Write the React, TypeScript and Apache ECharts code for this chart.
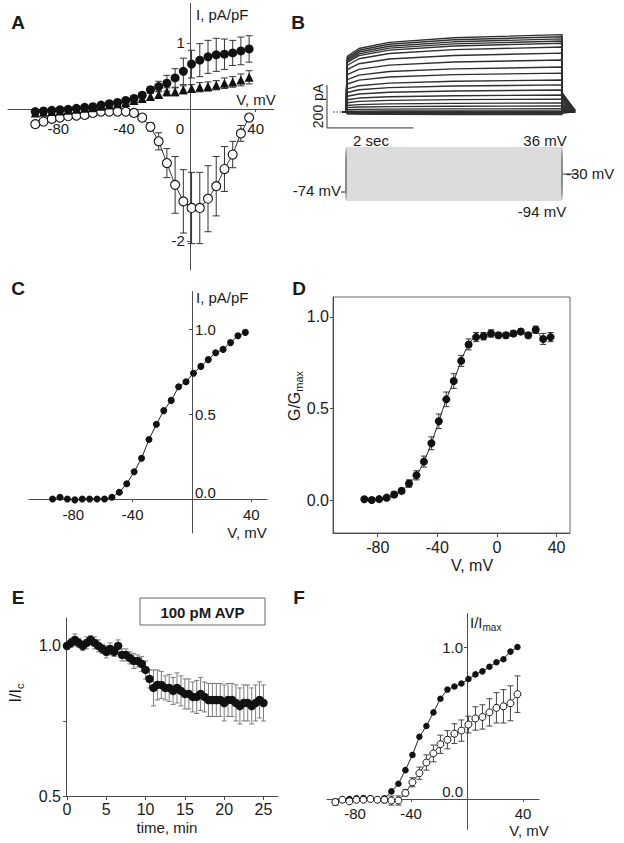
import React, { useEffect, useRef } from "react";
import * as echarts from "echarts";

// ---------- data ----------
const ivVoltages = [-94, -89, -84, -79, -74, -69, -64, -59, -54, -49, -44, -39, -34, -29, -24, -19, -14, -9, -4, 1, 6, 11, 16, 21, 26, 31, 36];

// Panel A (pA/pF)
const aFilled = [-0.04, -0.03, -0.02, -0.01, -0.005, 0.01, 0.025, 0.035, 0.06, 0.08, 0.1, 0.13, 0.16, 0.21, 0.29, 0.34, 0.39, 0.47, 0.57, 0.68, 0.74, 0.79, 0.82, 0.83, 0.85, 0.88, 0.91];
const aFilledErr = [0.02, 0.02, 0.02, 0.02, 0.02, 0.02, 0.02, 0.02, 0.02, 0.03, 0.03, 0.03, 0.04, 0.04, 0.05, 0.08, 0.12, 0.14, 0.2, 0.21, 0.25, 0.25, 0.25, 0.23, 0.19, 0.21, 0.2];
const aTriangle = [-0.06, -0.05, -0.04, -0.03, -0.02, -0.005, 0.01, 0.02, 0.04, 0.06, 0.08, 0.1, 0.13, 0.16, 0.19, 0.22, 0.26, 0.26, 0.29, 0.31, 0.33, 0.34, 0.36, 0.39, 0.41, 0.44, 0.48];
const aTriangleErr = [0.02, 0.02, 0.02, 0.02, 0.02, 0.02, 0.02, 0.02, 0.02, 0.02, 0.03, 0.03, 0.03, 0.04, 0.05, 0.05, 0.06, 0.06, 0.06, 0.06, 0.07, 0.07, 0.07, 0.08, 0.08, 0.09, 0.1];
const aOpen = [-0.23, -0.19, -0.15, -0.13, -0.11, -0.1, -0.09, -0.06, -0.04, -0.04, -0.04, -0.04, -0.06, -0.13, -0.27, -0.49, -0.82, -1.15, -1.4, -1.5, -1.5, -1.36, -1.17, -0.91, -0.69, -0.37, -0.13];
const aOpenErr = [0.03, 0.03, 0.02, 0.02, 0.02, 0.02, 0.02, 0.02, 0.02, 0.02, 0.02, 0.02, 0.03, 0.04, 0.06, 0.13, 0.22, 0.43, 0.48, 0.54, 0.54, 0.5, 0.45, 0.34, 0.2, 0.12, 0.05];
const aXLabels = [-80, -40, 0, 40];
const aYLabels = [1, -2];

// Panel B (pA, s, mV)
const bAmplitudes = [-12, -10, -8, -6, -5, -4, -2, 0, 5, 15, 28, 42, 60, 79, 102, 126, 149, 181, 209, 242, 274, 302, 320, 330, 340, 350, 360];
const bTraceTimes = [-0.08, 0, 0.03, 0.3, 1.0, 2.5, 5.0, 5.0, 5.3];
const bTraceProfile = [0, 0, 0.72, 0.82, 0.9, 0.96, 1.0, 0.25, 0.02];
const bHoldingMv = -74;
const bTailMv = -30;
const bPulseSec = 5;

// Panel C
const cCurrent = [0.0, 0.01, 0.0, -0.005, 0.0, 0.0, 0.0, 0.0, 0.01, 0.04, 0.09, 0.16, 0.24, 0.35, 0.44, 0.52, 0.58, 0.66, 0.69, 0.74, 0.78, 0.82, 0.86, 0.88, 0.92, 0.96, 0.98];
const cXLabels = [-80, -40, 40];
const cYLabels = [0, 0.5, 1.0];

// Panel D
const dVoltages = [-89, -84, -79, -74, -69, -64, -59, -54, -49, -44, -39, -34, -29, -24, -19, -14, -9, -4, 1, 6, 11, 16, 21, 26, 31, 36];
const dConductance = [0.004, 0.0, 0.005, 0.013, 0.03, 0.05, 0.09, 0.135, 0.21, 0.31, 0.43, 0.55, 0.65, 0.76, 0.85, 0.89, 0.895, 0.91, 0.9, 0.9, 0.91, 0.92, 0.9, 0.93, 0.88, 0.89];
const dErr = [0.01, 0.01, 0.01, 0.01, 0.015, 0.015, 0.02, 0.025, 0.03, 0.035, 0.04, 0.04, 0.04, 0.03, 0.03, 0.025, 0.02, 0.02, 0.015, 0.015, 0.015, 0.015, 0.015, 0.02, 0.03, 0.025];
const dXLabels = [-80, -40, 0, 40];
const dYLabels = [0, 0.5, 1.0];

// Panel E
const eTime = [0, 0.5, 1, 1.5, 2, 2.5, 3, 3.5, 4, 4.5, 5, 5.5, 6, 6.5, 7, 7.5, 8, 8.5, 9, 9.5, 10, 10.5, 11, 11.5, 12, 12.5, 13, 13.5, 14, 14.5, 15, 15.5, 16, 16.5, 17, 17.5, 18, 18.5, 19, 19.5, 20, 20.5, 21, 21.5, 22, 22.5, 23, 23.5, 24, 24.5, 25];
const eRatio = [1.0, 1.01, 1.02, 1.01, 1.0, 1.01, 1.02, 1.01, 1.0, 0.99, 0.98, 0.99, 0.98, 1.0, 0.97, 0.97, 0.96, 0.95, 0.95, 0.94, 0.92, 0.89, 0.86, 0.87, 0.87, 0.86, 0.86, 0.85, 0.86, 0.85, 0.84, 0.84, 0.83, 0.83, 0.84, 0.83, 0.82, 0.82, 0.82, 0.82, 0.81, 0.82, 0.82, 0.81, 0.8, 0.81, 0.81, 0.8, 0.81, 0.82, 0.81];
const eErr = [0.01, 0.015, 0.02, 0.015, 0.015, 0.02, 0.015, 0.02, 0.02, 0.015, 0.02, 0.02, 0.015, 0.02, 0.02, 0.02, 0.02, 0.025, 0.02, 0.025, 0.03, 0.03, 0.06, 0.05, 0.045, 0.04, 0.045, 0.045, 0.05, 0.05, 0.05, 0.05, 0.05, 0.055, 0.055, 0.05, 0.055, 0.055, 0.055, 0.055, 0.06, 0.055, 0.055, 0.06, 0.06, 0.06, 0.06, 0.06, 0.06, 0.06, 0.06];
const eXLabels = [0, 5, 10, 15, 20, 25];
const eYLabels = [0.5, 1.0];
const eYTicks = [0.5, 0.75, 1.0];

// Panel F
const fControl = [-0.02, -0.005, 0, 0.005, 0.007, 0.005, -0.005, 0.005, 0.05, 0.1, 0.19, 0.29, 0.41, 0.48, 0.57, 0.66, 0.72, 0.74, 0.76, 0.79, 0.82, 0.84, 0.87, 0.9, 0.92, 0.97, 1.0];
const fAvp = [-0.02, -0.005, -0.015, -0.005, -0.005, 0, -0.005, -0.005, -0.01, -0.01, 0.04, 0.11, 0.17, 0.24, 0.3, 0.36, 0.39, 0.43, 0.45, 0.49, 0.53, 0.54, 0.57, 0.6, 0.61, 0.63, 0.69];
const fAvpErr = [0.02, 0.01, 0.01, 0.01, 0.01, 0.01, 0.01, 0.02, 0.03, 0.03, 0.02, 0.03, 0.04, 0.05, 0.055, 0.06, 0.06, 0.065, 0.07, 0.055, 0.077, 0.08, 0.09, 0.1, 0.11, 0.115, 0.12];
const fXLabels = [-80, -40, 40];
const fYLabels = [0, 1.0];

// ---------- styling helpers ----------
const FONT = '"Liberation Sans", Arial, Helvetica, sans-serif';
const AX = "#4d4d4d";
const TX = "#1a1a1a";
const INK = "#111111";

function valAxis(grid: number, min: number, max: number, ticks: number[], labels: number[], o: any = {}) {
  return {
    type: "value",
    gridIndex: grid,
    min,
    max,
    position: o.position,
    offset: o.offset ?? 0,
    splitLine: { show: false },
    axisLine: { show: true, onZero: false, lineStyle: { color: AX, width: 1 } },
    axisTick: { show: ticks.length > 0, length: o.tickLen ?? 3, inside: false, customValues: ticks, lineStyle: { color: AX } },
    axisLabel: {
      show: true,
      customValues: labels,
      fontFamily: FONT,
      fontSize: o.fontSize ?? 15,
      color: TX,
      margin: o.margin ?? 6,
      inside: o.inside ?? false,
      formatter: o.formatter,
      rich: o.rich,
    },
  };
}

function hidden(grid: number, min: number, max: number) {
  return { type: "value", gridIndex: grid, min, max, show: false, splitLine: { show: false } };
}

function errBars(axis: number, xs: number[], ys: number[], errs: number[], color: string, cap: number, lw = 1) {
  const data = xs.map((x, i) => [x, ys[i] - errs[i], ys[i] + errs[i]]);
  return {
    type: "custom",
    xAxisIndex: axis,
    yAxisIndex: axis,
    data,
    z: 1,
    silent: true,
    encode: { x: 0, y: [1, 2] },
    renderItem: (_p: any, api: any) => {
      const a = api.coord([api.value(0), api.value(1)]);
      const b = api.coord([api.value(0), api.value(2)]);
      return {
        type: "group",
        children: [
          { type: "line", shape: { x1: a[0], y1: a[1], x2: b[0], y2: b[1] }, style: { stroke: color, lineWidth: lw } },
          { type: "line", shape: { x1: a[0] - cap, y1: a[1], x2: a[0] + cap, y2: a[1] }, style: { stroke: color, lineWidth: lw } },
          { type: "line", shape: { x1: b[0] - cap, y1: b[1], x2: b[0] + cap, y2: b[1] }, style: { stroke: color, lineWidth: lw } },
        ],
      };
    },
  };
}

function pts(xs: number[], ys: number[]) {
  return xs.map((x, i) => [x, ys[i]]);
}

function txt(x: number, y: number, text: string, o: any = {}) {
  return {
    type: "text",
    x,
    y,
    rotation: o.rot ?? 0,
    silent: true,
    z: 100,
    style: {
      text,
      fontFamily: FONT,
      fontSize: o.size ?? 15,
      fontWeight: o.weight ?? "normal",
      fill: o.fill ?? TX,
      align: o.align ?? "center",
      verticalAlign: "middle",
      rich: o.rich,
    },
  };
}

const fix1 = (v: number) => v.toFixed(1);
const shiftUp = (v: number) => (v === 0 ? "{u|0.0}" : v.toFixed(1));

function buildOption() {
  const grids = [
    { left: 8, top: 3.4, width: 265.8, height: 266.6 }, // A
    { left: 324.4, top: 30.3, width: 259.2, height: 98.9 }, // B traces
    { left: 324.4, top: 146.4, width: 259.2, height: 56 }, // B protocol
    { left: 29, top: 291.6, width: 238, height: 241.4 }, // C
    { left: 333, top: 297, width: 237, height: 236, show: true, borderColor: "#6a6a6a", borderWidth: 1 }, // D
    { left: 66, top: 618, width: 212, height: 178 }, // E
    { left: 327, top: 613.6, width: 212, height: 215.8 }, // F
  ].map((g) => ({ containLabel: false, outerBoundsMode: "none", ...g }));

  // axes crossing at zero are placed with offsets from the grid edges
  const xAxis = [
    valAxis(0, -110.6, 51, aXLabels, aXLabels, {
      position: "bottom",
      offset: -161,
      margin: 12,
      formatter: (v: number) => (v === 0 ? "{z|0}" : String(v)),
      rich: { z: { padding: [0, 20, 0, 0], fontFamily: FONT, fontSize: 15, color: TX } },
    }),
    hidden(1, -0.5, 5.5),
    hidden(2, -0.5, 5.5),
    valAxis(3, -109.9, 50.6, [-40, 40], cXLabels, { position: "bottom", offset: -34, margin: 8 }),
    valAxis(4, -110, 49, dXLabels, dXLabels, { position: "bottom", fontSize: 16, tickLen: 4, margin: 6 }),
    valAxis(5, -0.13, 26.85, eXLabels, eXLabels, { position: "bottom", fontSize: 16, tickLen: 4, margin: 5 }),
    valAxis(6, -100, 51.4, [-40, 40], fXLabels, { position: "bottom", offset: -30.4, margin: 7 }),
  ];
  const yAxis = [
    valAxis(0, -2.44, 1.6, aYLabels, aYLabels, { position: "left", offset: -181.9, margin: 5 }),
    hidden(1, -80, 380),
    hidden(2, -100, 40),
    valAxis(3, -0.2, 1.22, [0.5, 1.0], cYLabels, {
      position: "left",
      offset: -163,
      inside: true,
      margin: 3,
      formatter: shiftUp,
      rich: { u: { padding: [0, 0, 14, 0], fontFamily: FONT, fontSize: 15, color: TX } },
    }),
    valAxis(4, -0.18, 1.109, dYLabels, dYLabels, { position: "left", fontSize: 16, formatter: fix1, margin: 4 }),
    valAxis(5, 0.5, 1.093, eYTicks, eYLabels, { position: "left", fontSize: 16, formatter: fix1, margin: 5 }),
    valAxis(6, -0.2, 1.22, [1.0], fYLabels, {
      position: "left",
      offset: -140,
      margin: 4,
      formatter: shiftUp,
      rich: { u: { padding: [0, 0, 16, 0], fontFamily: FONT, fontSize: 15, color: TX } },
    }),
  ];

  const series: any[] = [];

  // ---- Panel A ----
  series.push(errBars(0, ivVoltages, aOpen, aOpenErr, "#333", 3.5));
  series.push(errBars(0, ivVoltages, aFilled, aFilledErr, "#333", 3.5));
  series.push(errBars(0, ivVoltages, aTriangle, aTriangleErr, "#333", 3.5));
  series.push({
    type: "line", xAxisIndex: 0, yAxisIndex: 0, data: pts(ivVoltages, aOpen), z: 3,
    symbol: "circle", symbolSize: 9, showAllSymbol: true,
    lineStyle: { color: "#333", width: 1 },
    itemStyle: { color: "#fff", borderColor: INK, borderWidth: 1.1 },
  });
  series.push({
    type: "scatter", xAxisIndex: 0, yAxisIndex: 0, data: pts(ivVoltages, aTriangle), z: 3,
    symbol: "triangle", symbolSize: 9, itemStyle: { color: INK, opacity: 1 },
  });
  series.push({
    type: "scatter", xAxisIndex: 0, yAxisIndex: 0, data: pts(ivVoltages, aFilled), z: 4,
    symbol: "circle", symbolSize: 9, itemStyle: { color: INK, opacity: 1 },
  });

  // ---- Panel B: current traces ----
  series.push({
    type: "line", xAxisIndex: 1, yAxisIndex: 1, data: [[-0.3, 0], [5.37, 0]], symbol: "none", z: 5,
    lineStyle: { color: "#222", width: 1, type: [1.5, 2] },
  });
  bAmplitudes.forEach((amp) => {
    series.push({
      type: "line", xAxisIndex: 1, yAxisIndex: 1, symbol: "none", z: 3,
      data: bTraceTimes.map((t, k) => [t, amp * bTraceProfile[k]]),
      lineStyle: { color: "#303030", width: 1.4 },
    });
  });
  // scale bar 200 pA / 2 s
  series.push({
    type: "line", xAxisIndex: 1, yAxisIndex: 1, symbol: "none", z: 3,
    data: [[-0.44, 126], [-0.44, -74], [1.56, -74]],
    lineStyle: { color: "#333", width: 1 },
  });
  // voltage protocol
  ivVoltages.forEach((v) => {
    series.push({
      type: "line", xAxisIndex: 2, yAxisIndex: 2, symbol: "none", z: 2,
      data: [[-0.1, bHoldingMv], [0, bHoldingMv], [0, v], [bPulseSec, v], [bPulseSec, bTailMv], [bPulseSec + 0.35, bTailMv]],
      lineStyle: { color: "#8c8c8c", width: 0.6 },
    });
  });

  // ---- Panel C ----
  series.push({
    type: "line", xAxisIndex: 3, yAxisIndex: 3, data: pts(ivVoltages, cCurrent), z: 3,
    symbol: "circle", symbolSize: 7, showAllSymbol: true,
    lineStyle: { color: "#222", width: 1 }, itemStyle: { color: INK },
  });

  // ---- Panel D ----
  series.push(errBars(4, dVoltages, dConductance, dErr, "#333", 3));
  series.push({
    type: "line", xAxisIndex: 4, yAxisIndex: 4, data: pts(dVoltages, dConductance), z: 3,
    symbol: "circle", symbolSize: 8, showAllSymbol: true, smooth: 0.35,
    lineStyle: { color: "#222", width: 1 }, itemStyle: { color: INK },
  });

  // ---- Panel E ----
  series.push(errBars(5, eTime, eRatio, eErr, "#6e6e6e", 2.5, 0.9));
  series.push({
    type: "scatter", xAxisIndex: 5, yAxisIndex: 5, data: pts(eTime, eRatio), z: 3,
    symbol: "circle", symbolSize: 8.5, itemStyle: { color: INK, opacity: 1 },
  });

  // ---- Panel F ----
  series.push(errBars(6, ivVoltages, fAvp, fAvpErr, "#444", 3));
  series.push({
    type: "line", xAxisIndex: 6, yAxisIndex: 6, data: pts(ivVoltages, fControl), z: 3,
    symbol: "circle", symbolSize: 6.5, showAllSymbol: true,
    lineStyle: { color: "#222", width: 1 }, itemStyle: { color: INK },
  });
  series.push({
    type: "line", xAxisIndex: 6, yAxisIndex: 6, data: pts(ivVoltages, fAvp), z: 4,
    symbol: "circle", symbolSize: 7, showAllSymbol: true,
    lineStyle: { color: "#333", width: 1 }, itemStyle: { color: "#fff", borderColor: INK, borderWidth: 1 },
  });

  const subRich = (size: number) => ({
    n: { fontFamily: FONT, fontSize: size, lineHeight: 20, fill: TX },
    s: { fontFamily: FONT, fontSize: size - 5, lineHeight: 20, verticalAlign: "bottom", fill: TX },
  });

  const graphic = [
    // panel letters
    txt(18, 22, "A", { size: 19, weight: "bold" }),
    txt(298, 22, "B", { size: 19, weight: "bold" }),
    txt(18, 288, "C", { size: 19, weight: "bold" }),
    txt(299, 288, "D", { size: 19, weight: "bold" }),
    txt(18, 597, "E", { size: 19, weight: "bold" }),
    txt(299, 597, "F", { size: 19, weight: "bold" }),
    // A
    txt(196, 14, "I, pA/pF", { align: "left" }),
    txt(256, 99, "V, mV"),
    // B
    txt(318, 106, "200 pA", { rot: Math.PI / 2, size: 14 }),
    txt(371, 140, "2 sec"),
    txt(545, 140, "36 mV"),
    txt(341, 190, "-74 mV", { align: "right" }),
    txt(566, 173, "-30 mV", { align: "left" }),
    txt(542, 211, "-94 mV"),
    // C
    txt(196, 297, "I, pA/pF", { align: "left" }),
    txt(247, 532, "V, mV"),
    // D
    txt(294, 396, "{n|G/G}{s|max}", { rot: Math.PI / 2, size: 16, rich: subRich(16) }),
    txt(472, 565, "V, mV", { size: 16 }),
    // E
    txt(15, 693, "{n|I/I}{s|c}", { rot: Math.PI / 2, size: 16, rich: subRich(16) }),
    txt(167, 827, "time, min", { size: 15 }),
    {
      type: "rect", z: 100, silent: true,
      shape: { x: 140, y: 598, width: 125, height: 27 },
      style: { fill: "#fff", stroke: "#666", lineWidth: 1 },
    },
    txt(202.5, 612, "100 pM AVP", { weight: "bold", size: 15 }),
    // F
    txt(470, 622, "{n|I/I}{s|max}", { align: "left", size: 15, rich: subRich(15) }),
    txt(529, 830, "V, mV"),
  ];

  return {
    animation: false,
    backgroundColor: "#ffffff",
    textStyle: { fontFamily: FONT },
    grid: grids,
    xAxis,
    yAxis,
    series,
    graphic,
  };
}

export default function App() {
  const ref = useRef<HTMLDivElement>(null);
  useEffect(() => {
    if (!ref.current) return;
    const chart = echarts.init(ref.current, null, { renderer: "svg" });
    chart.setOption(buildOption() as any);
    return () => chart.dispose();
  }, []);
  return (
    <div
      ref={ref}
      style={{ position: "absolute", left: 0, top: 0, width: 624, height: 843, background: "#fff" }}
    />
  );
}
